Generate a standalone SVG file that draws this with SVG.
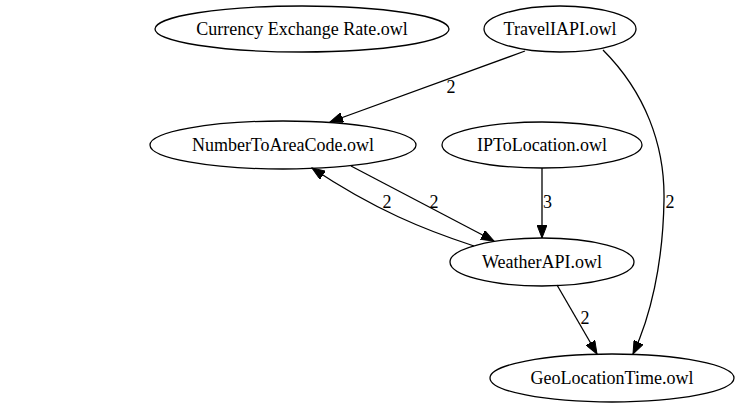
<svg xmlns="http://www.w3.org/2000/svg" width="738" height="407" viewBox="0 0 738 407">
<style>
.node ellipse{fill:none;stroke:#000;stroke-width:1.3}
.node text{font-family:"Liberation Serif","Times New Roman",serif;font-size:18px;text-anchor:middle;fill:#000}
.edge path{fill:none;stroke:#000;stroke-width:1.3}
.lbl{font-family:"Liberation Serif","Times New Roman",serif;font-size:18px;text-anchor:middle;fill:#000}
</style>
<defs>
<marker id="arr" markerUnits="userSpaceOnUse" markerWidth="14" markerHeight="10" refX="13" refY="5" orient="auto">
<path d="M0,0 L13,5 L0,10 z" fill="#000" stroke="#000" stroke-width="1"/>
</marker>
</defs>
<rect width="738" height="407" fill="#fff"/>
<g id="connectors">
<g class="edge" id="e_travel_number"><path d="M525,51 L330,122" marker-end="url(#arr)"/><text class="lbl" x="451" y="93">2</text></g>
<g class="edge" id="e_travel_geo"><path d="M603,50 C645,92 665,145 664,200 C663,265 650,318 633,354" marker-end="url(#arr)"/><text class="lbl" x="670" y="208">2</text></g>
<g class="edge" id="e_ip_weather"><path d="M542,168 L542,238" marker-end="url(#arr)"/><text class="lbl" x="547.5" y="208">3</text></g>
<g class="edge" id="e_number_weather"><path d="M351,166 L494,241" marker-end="url(#arr)"/><text class="lbl" x="434" y="208">2</text></g>
<g class="edge" id="e_weather_number"><path d="M474,246 C425,230 375,210 312,168" marker-end="url(#arr)"/><text class="lbl" x="387" y="208">2</text></g>
<g class="edge" id="e_weather_geo"><path d="M557,285 L597,354" marker-end="url(#arr)"/><text class="lbl" x="585" y="324">2</text></g>
</g>
<g class="node" id="n_currency"><ellipse cx="302" cy="29" rx="147" ry="23"/><text x="302" y="35">Currency Exchange Rate.owl</text></g>
<g class="node" id="n_travel"><ellipse cx="560" cy="29" rx="76" ry="23"/><text x="560" y="35">TravelIAPI.owl</text></g>
<g class="node" id="n_number"><ellipse cx="283" cy="145" rx="133" ry="24"/><text x="283" y="151">NumberToAreaCode.owl</text></g>
<g class="node" id="n_ip"><ellipse cx="542" cy="145" rx="100" ry="23"/><text x="542" y="151">IPToLocation.owl</text></g>
<g class="node" id="n_weather"><ellipse cx="542" cy="262" rx="92" ry="24"/><text x="542" y="268">WeatherAPI.owl</text></g>
<g class="node" id="n_geo"><ellipse cx="612" cy="378" rx="122" ry="24"/><text x="612" y="384">GeoLocationTime.owl</text></g>
</svg>
